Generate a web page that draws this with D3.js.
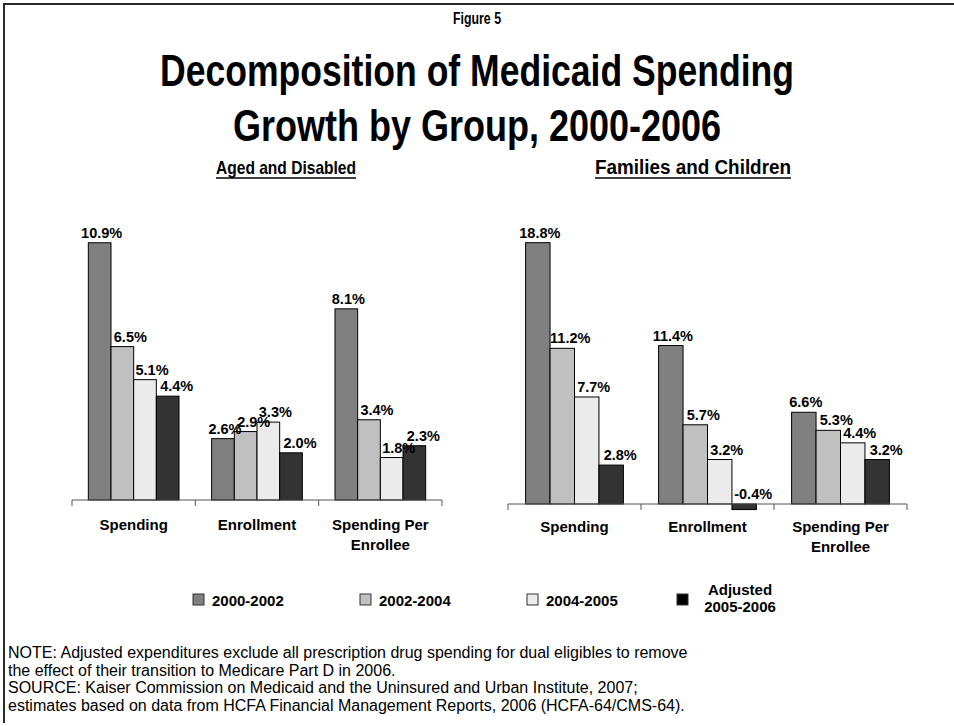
<!DOCTYPE html>
<html>
<head>
<meta charset="utf-8">
<script src="https://cdn.jsdelivr.net/npm/d3@7"></script>
<style>
  body { margin: 0; background: #fff; }
  svg { display: block; }
</style>
</head>
<body>
<script>
// ---- data -------------------------------------------------------------
const categories = ["Spending", "Enrollment", "Spending Per Enrollee"];
const categoryLines = [["Spending"], ["Enrollment"], ["Spending Per", "Enrollee"]];
const periods = ["2000-2002", "2002-2004", "2004-2005", "Adjusted 2005-2006"];
const periodLegendLines = [["2000-2002"], ["2002-2004"], ["2004-2005"], ["Adjusted", "2005-2006"]];

// Annual growth (%) per category; one value per period
const agedSpending        = [10.9, 6.5, 5.1, 4.4];
const agedEnrollment      = [2.6, 2.9, 3.3, 2.0];
const agedPerEnrollee     = [8.1, 3.4, 1.8, 2.3];
const familiesSpending    = [18.8, 11.2, 7.7, 2.8];
const familiesEnrollment  = [11.4, 5.7, 3.2, -0.4];
const familiesPerEnrollee = [6.6, 5.3, 4.4, 3.2];

const noteLines = [
  "NOTE: Adjusted expenditures exclude all prescription drug spending for dual eligibles to remove",
  "the effect of their transition to Medicare Part D in 2006.",
  "SOURCE: Kaiser Commission on Medicaid and the Uninsured and Urban Institute, 2007;",
  "estimates based on data from HCFA Financial Management Reports, 2006 (HCFA-64/CMS-64)."
];

// ---- styling ----------------------------------------------------------
const W = 954, H = 726;
const barFill = ["#808080", "#c0c0c0", "#ebebeb", "#333333"];
const legendFill = ["#808080", "#c0c0c0", "#ebebeb", "#000000"];
const labelShift = [2, 8, 7, 9];
const sansFont = "'Liberation Sans', Arial, Helvetica, sans-serif";
const narrowFont = "'Liberation Sans Narrow', 'Arial Narrow', 'Liberation Sans', Arial, sans-serif";

const panels = [
  { title: "Aged and Disabled", titleX: 286, titleLen: 140, titleSize: 19,
    rows: [agedSpending, agedEnrollment, agedPerEnrollee],
    xRange: [72, 442], yDomain: [0, 12], yRange: [500, 500 - 12 * 23.6], labelY: 530 },
  { title: "Families and Children", titleX: 693, titleLen: 196, titleSize: 20,
    rows: [familiesSpending, familiesEnrollment, familiesPerEnrollee],
    xRange: [508, 907], yDomain: [0, 20], yRange: [504, 504 - 20 * 13.9], labelY: 532 }
];

const svg = d3.select("body").append("svg")
  .attr("width", W).attr("height", H)
  .attr("viewBox", `0 0 ${W} ${H}`);

svg.append("rect").attr("width", W).attr("height", H).attr("fill", "#fff");

// frame lines (top and left)
svg.append("path")
  .attr("d", `M4,${H - 3}V4H${W}`)
  .attr("fill", "none").attr("stroke", "#2a2a2a").attr("stroke-width", 2);

// ---- headings ---------------------------------------------------------
svg.append("text")
  .attr("x", 477).attr("y", 24)
  .attr("text-anchor", "middle")
  .attr("font-family", narrowFont).attr("font-weight", "bold").attr("font-size", 16)
  .attr("textLength", 48).attr("lengthAdjust", "spacingAndGlyphs")
  .text("Figure 5");

const titleLines = [
  { text: "Decomposition of Medicaid Spending", y: 86, len: 634 },
  { text: "Growth by Group, 2000-2006", y: 141, len: 488 }
];
svg.selectAll("text.title").data(titleLines).join("text")
  .attr("class", "title")
  .attr("x", 477).attr("y", d => d.y)
  .attr("text-anchor", "middle")
  .attr("font-family", narrowFont).attr("font-weight", "bold").attr("font-size", 44)
  .attr("textLength", d => d.len).attr("lengthAdjust", "spacingAndGlyphs")
  .text(d => d.text);

// ---- panels -----------------------------------------------------------
panels.forEach(p => {
  const g = svg.append("g");

  // panel heading, underlined
  g.append("text")
    .attr("x", p.titleX).attr("y", 174)
    .attr("text-anchor", "middle")
    .attr("font-family", narrowFont).attr("font-weight", "bold").attr("font-size", p.titleSize)
    .attr("textLength", p.titleLen).attr("lengthAdjust", "spacingAndGlyphs")
    .text(p.title);
  g.append("line")
    .attr("x1", p.titleX - p.titleLen / 2).attr("x2", p.titleX + p.titleLen / 2)
    .attr("y1", 178).attr("y2", 178)
    .attr("stroke", "#000").attr("stroke-width", 1.6);

  const x0 = d3.scaleBand().domain(categories).range(p.xRange).padding(0);
  const x1 = d3.scaleBand().domain(periods).range([0, x0.bandwidth()])
    .paddingInner(0).paddingOuter(0.72);
  const y = d3.scaleLinear().domain(p.yDomain).range(p.yRange);

  const groups = g.selectAll("g.cat")
    .data(categories.map((c, i) => ({ cat: c, lines: categoryLines[i], values: p.rows[i] })))
    .join("g").attr("class", "cat")
    .attr("transform", d => `translate(${x0(d.cat)},0)`);

  groups.selectAll("rect")
    .data(d => d.values.map((v, j) => ({ v, period: periods[j], j })))
    .join("rect")
    .attr("x", d => x1(d.period))
    .attr("width", x1.bandwidth())
    .attr("y", d => y(Math.max(0, d.v)))
    .attr("height", d => Math.abs(y(d.v) - y(0)))
    .attr("fill", d => barFill[d.j])
    .attr("stroke", "#000").attr("stroke-width", 1);

  groups.selectAll("text.val")
    .data(d => d.values.map((v, j) => ({ v, period: periods[j], j })))
    .join("text").attr("class", "val")
    .attr("x", d => x1(d.period) + x1.bandwidth() / 2 + labelShift[d.j])
    .attr("y", d => y(Math.max(0, d.v)) - 5)
    .attr("text-anchor", "middle")
    .attr("font-family", sansFont).attr("font-weight", "bold").attr("font-size", 14.5)
    .attr("fill", "#000")
    .text(d => d3.format(".1f")(d.v).replace("\u2212", "-") + "%");

  // category axis: baseline with ticks at band edges
  const y0 = y(0);
  g.append("line")
    .attr("x1", p.xRange[0]).attr("x2", p.xRange[1])
    .attr("y1", y0).attr("y2", y0)
    .attr("stroke", "#555").attr("stroke-width", 1);
  const edges = categories.map(c => x0(c)).concat([p.xRange[1]]);
  g.selectAll("line.tick").data(edges).join("line").attr("class", "tick")
    .attr("x1", d => d).attr("x2", d => d)
    .attr("y1", y0).attr("y2", y0 + 6)
    .attr("stroke", "#555").attr("stroke-width", 1);

  groups.each(function (d) {
    const t = d3.select(this).append("text")
      .attr("text-anchor", "middle")
      .attr("font-family", sansFont).attr("font-weight", "bold").attr("font-size", 15)
      .attr("fill", "#000");
    d.lines.forEach((ln, k) => {
      t.append("tspan")
        .attr("x", x0.bandwidth() / 2)
        .attr("y", p.labelY + k * 19.5)
        .text(ln);
    });
  });
});

// ---- legend -----------------------------------------------------------
const legendX = [193, 360, 527, 677];
const legend = svg.selectAll("g.legend")
  .data(periods.map((p, i) => ({ p, i, lines: periodLegendLines[i] })))
  .join("g").attr("class", "legend")
  .attr("transform", d => `translate(${legendX[d.i]},594)`);

legend.append("rect")
  .attr("width", 11).attr("height", 11)
  .attr("fill", d => legendFill[d.i])
  .attr("stroke", "#333").attr("stroke-width", 1);

legend.each(function (d) {
  const t = d3.select(this).append("text")
    .attr("font-family", sansFont).attr("font-weight", "bold").attr("font-size", 15)
    .attr("fill", "#000");
  if (d.lines.length === 1) {
    t.attr("x", 19).attr("y", 11.5).text(d.lines[0]);
  } else {
    t.attr("text-anchor", "middle");
    d.lines.forEach((ln, k) => {
      t.append("tspan").attr("x", 63).attr("y", 1 + k * 17).text(ln);
    });
  }
});

// ---- notes ------------------------------------------------------------
svg.selectAll("text.note").data(noteLines).join("text")
  .attr("class", "note")
  .attr("x", 8).attr("y", (d, i) => 658 + i * 17.7)
  .attr("font-family", sansFont).attr("font-size", 16)
  .attr("fill", "#000")
  .text(d => d);
</script>
</body>
</html>
